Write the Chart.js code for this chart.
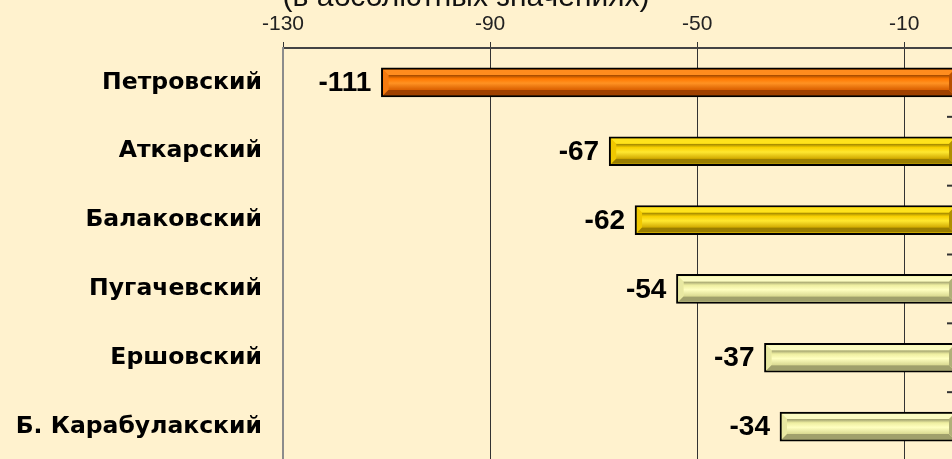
<!DOCTYPE html>
<html>
<head>
<meta charset="utf-8">
<script src="https://cdn.jsdelivr.net/npm/chart.js@4"></script>
<style>
  html, body { margin: 0; padding: 0; overflow: hidden; background: #fff2ce; }
  #wrap { position: absolute; left: -24px; top: -30px; width: 1000px; height: 491px; }
</style>
</head>
<body>
<div id="wrap"><canvas id="chart"></canvas></div>
<script>
const titleText = '(в абсолютных значениях)';
const districts = ['Петровский', 'Аткарский', 'Балаковский', 'Пугачевский', 'Ершовский', 'Б. Карабулакский'];
const changes = [-111, -67, -62, -54, -37, -34];
const axisTicks = [-130, -90, -50, -10];
const barStyle = ['orange', 'gold', 'gold', 'pale', 'pale', 'pale'];

// bevel colours for each bar style
const palette = {
    orange: { base: '#ff7a00', top: '#ff8c1e', left: '#f47a10', bottom: '#a04200', right: '#b85000',
              body: ['#9c4600', '#ff7800', '#ff9222', '#d85e00'] },
    gold:   { base: '#f8d000', top: '#ffe31c', left: '#f0c800', bottom: '#9a7e00', right: '#b09000',
              body: ['#988000', '#f8d000', '#ffe830', '#d0a800'] },
    pale:   { base: '#f0f0a0', top: '#fbfbc2', left: '#e8e8a2', bottom: '#a0a06c', right: '#b0b078',
              body: ['#9a9a6a', '#eeeea0', '#ffffc0', '#d8d890'] }
};

function poly(ctx, pts, color) {
    ctx.beginPath();
    ctx.moveTo(pts[0][0], pts[0][1]);
    pts.slice(1).forEach(p => ctx.lineTo(p[0], p[1]));
    ctx.closePath();
    ctx.fillStyle = color;
    ctx.fill();
}

const bevelBars = {
    id: 'bevelBars',
    afterDatasetsDraw(chart) {
        const ctx = chart.ctx;
        const w = 5;
        chart.getDatasetMeta(0).data.forEach((bar, i) => {
            const p = palette[barStyle[i]];
            const l = Math.min(bar.x, bar.base) + 2, r = Math.max(bar.x, bar.base) - 2;
            const t = bar.y - bar.height / 2 + 2, b = bar.y + bar.height / 2 - 2;
            ctx.save();
            const g = ctx.createLinearGradient(0, t + w, 0, b - w);
            g.addColorStop(0, p.body[0]);
            g.addColorStop(0.25, p.body[1]);
            g.addColorStop(0.55, p.body[2]);
            g.addColorStop(1, p.body[3]);
            ctx.fillStyle = g;
            ctx.fillRect(l + w, t + w, r - l - 2 * w, b - t - 2 * w);
            poly(ctx, [[l, t], [r, t], [r - w, t + w], [l + w, t + w]], p.top);
            poly(ctx, [[l, t], [l + w, t + w], [l + w, b - w], [l, b]], p.left);
            poly(ctx, [[l, b], [l + w, b - w], [r - w, b - w], [r, b]], p.bottom);
            poly(ctx, [[r, t], [r, b], [r - w, b - w], [r - w, t + w]], p.right);
            ctx.restore();
        });
    }
};

// value labels left of each bar + small category ticks at the zero line
const barLabels = {
    id: 'barLabels',
    afterDraw(chart) {
        const ctx = chart.ctx;
        const xs = chart.scales.x, ys = chart.scales.y;
        ctx.save();
        ctx.font = 'bold 28px "Liberation Sans", Arial, sans-serif';
        ctx.fillStyle = '#000';
        ctx.textAlign = 'right';
        ctx.textBaseline = 'middle';
        chart.getDatasetMeta(0).data.forEach((bar, i) => {
            ctx.fillText(String(changes[i]), Math.min(bar.x, bar.base) - 10, bar.y + 1);
        });
        const zx = xs.getPixelForValue(0);
        ctx.strokeStyle = '#333';
        ctx.lineWidth = 2;
        for (let i = 0; i < districts.length - 1; i++) {
            const yy = (ys.getPixelForValue(i) + ys.getPixelForValue(i + 1)) / 2;
            ctx.beginPath();
            ctx.moveTo(zx - 9, yy);
            ctx.lineTo(zx, yy);
            ctx.stroke();
        }
        ctx.restore();
    }
};

new Chart(document.getElementById('chart'), {
    type: 'bar',
    data: {
        labels: districts,
        datasets: [{
            data: changes,
            backgroundColor: barStyle.map(s => palette[s].base),
            borderColor: '#000',
            borderWidth: 2,
            borderSkipped: false,
            barThickness: 29
        }]
    },
    options: {
        indexAxis: 'y',
        responsive: true,
        maintainAspectRatio: false,
        animation: false,
        layout: { padding: { left: 0, right: 20, top: 0, bottom: 0 } },
        plugins: {
            legend: { display: false },
            tooltip: { enabled: false },
            title: {
                display: true,
                text: titleText,
                color: '#111',
                font: { family: '"Liberation Sans", Arial, sans-serif', size: 30, weight: 'normal', lineHeight: 1.2 },
                padding: { top: 10, bottom: 0 }
            }
        },
        scales: {
            x: {
                position: 'top',
                min: -130,
                max: 0,
                afterBuildTicks: s => { s.ticks = axisTicks.map(v => ({ value: v })); },
                afterFit: s => { s.height = 32; },
                ticks: {
                    color: '#222',
                    padding: 5,
                    maxRotation: 0,
                    font: { family: '"Liberation Sans", Arial, sans-serif', size: 21 },
                    callback: v => String(v)
                },
                grid: {
                    color: c => (c.tick && c.tick.value === -130) ? 'rgba(0,0,0,0)' : '#333',
                    tickColor: '#333',
                    lineWidth: 1,
                    tickLength: 6
                },
                border: { display: true, color: '#444', width: 2 }
            },
            y: {
                position: 'left',
                afterFit: s => { s.width = 307; s.paddingTop = 0; s.paddingBottom = 0; },
                ticks: {
                    color: '#000',
                    padding: 21,
                    autoSkip: false,
                    font: { family: '"DejaVu Sans", sans-serif', size: 23.5, weight: 'bold' }
                },
                grid: { display: false, drawTicks: false },
                border: { display: true, color: '#8c8c8c', width: 2 }
            }
        }
    },
    plugins: [bevelBars, barLabels]
});
</script>
</body>
</html>
